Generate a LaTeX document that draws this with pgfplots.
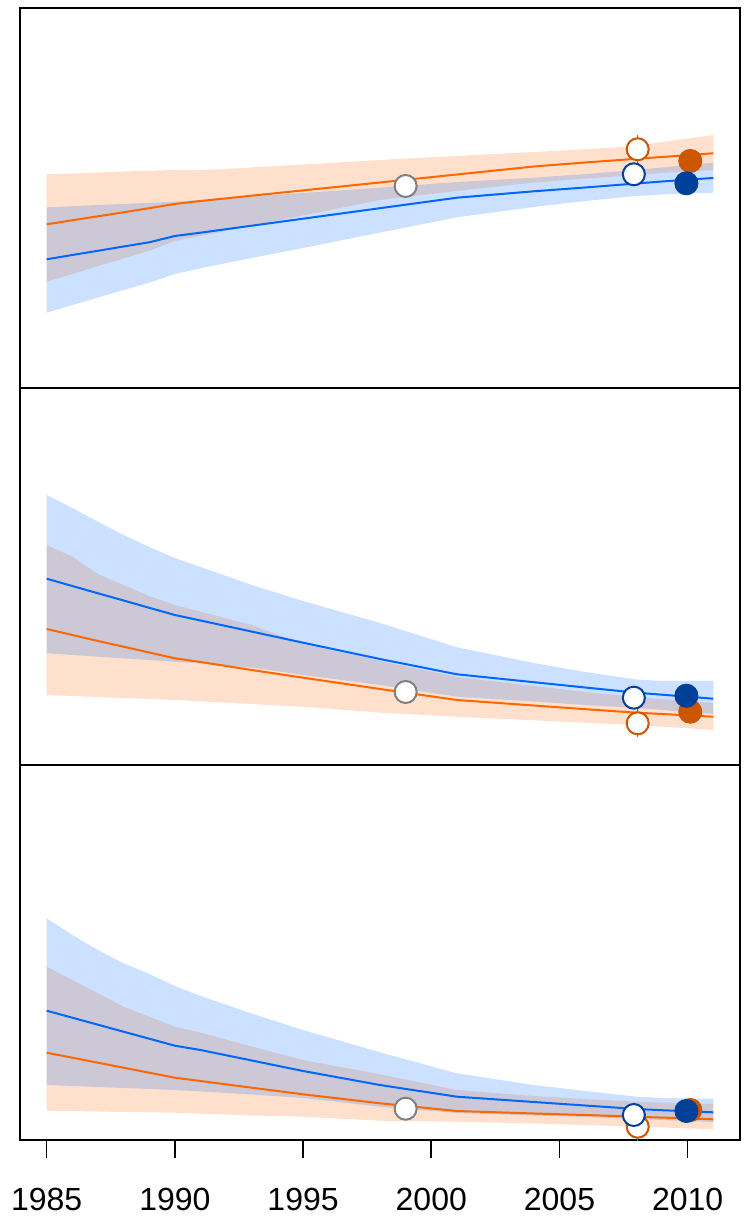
\documentclass[border=0pt]{standalone}
\usepackage{fontspec}
\setmainfont{Liberation Sans}
\usepackage{pgfplots}
\pgfplotsset{compat=1.18}
\usepackage{pgfplotstable}

\definecolor{oline}{RGB}{255,102,0}
\definecolor{bline}{RGB}{0,102,255}
\definecolor{odark}{RGB}{204,85,0}
\definecolor{bdark}{RGB}{0,64,153}
\definecolor{gcirc}{RGB}{128,128,128}

% values are vertical positions (larger = lower), read from the reference
% ---- panel 1 ----
\pgfplotstableread{
year om    bm
1985 224.3 259.3
1986 220.3 255.0
1987 216.3 250.8
1988 212.3 246.5
1989 208.2 242.3
1990 204.0 236.0
1991 201.0 232.7
1993 195.7 225.7
1995 190.4 218.7
1998 182.5 208.2
2001 174.5 197.7
2004 166.5 191.3
2006 162.5 187.5
2008 158.8 183.5
2009 157.0 181.5
2010 155.2 179.7
2011 153.3 178.0
}\lineA
\pgfplotstableread{
year y
1985 174.3
1986 173.5
1987 172.5
1988 171.5
1989 170.7
1990 170.0
1991 170.3
1993 167.5
1995 164.5
1998 160.0
2001 156.0
2004 152.0
2006 149.3
2008 146.0
2009 142.0
2010 138.5
2011 135.0
2011 170.0
2010 171.5
2009 173.0
2008 175.0
2006 178.5
2004 182.5
2001 191.0
1998 200.0
1995 215.5
1993 225.7
1991 236.0
1990 241.0
1989 250.7
1988 258.5
1987 266.0
1986 274.0
1985 281.7
}\obandA
\pgfplotstableread{
year y
1985 207.3
1986 206.2
1987 205.0
1988 204.0
1989 202.8
1990 201.7
1991 200.0
1993 196.5
1995 193.0
1998 187.7
2001 182.0
2004 177.7
2006 174.0
2008 170.0
2009 167.5
2010 165.0
2011 162.7
2011 192.7
2010 193.5
2009 194.5
2008 196.0
2006 201.0
2004 207.0
2001 217.3
1998 232.6
1995 248.0
1993 258.0
1991 268.3
1990 274.0
1989 282.7
1988 290.0
1987 297.5
1986 305.0
1985 312.7
}\bbandA

% ---- panel 2 ----
\pgfplotstableread{
year om    bm
1985 629.0 578.7
1986 635.0 586.0
1987 641.0 593.3
1988 646.7 600.5
1989 652.5 607.8
1990 658.3 615.0
1991 662.0 620.5
1993 670.0 631.6
1995 677.7 642.7
1998 689.0 659.0
2001 700.0 674.3
2004 705.5 682.2
2006 709.2 687.5
2008 712.7 692.7
2009 714.0 694.7
2010 715.4 696.7
2011 716.7 698.7
}\lineB
\pgfplotstableread{
year y
1985 545.0
1986 556.7
1987 574.0
1988 585.0
1989 596.0
1990 605.0
1991 611.7
1993 625.0
1995 644.0
1998 661.0
2001 677.0
2004 686.0
2006 692.0
2008 697.0
2009 699.0
2010 701.0
2011 703.0
2011 730.0
2010 728.3
2009 726.7
2008 725.0
2006 722.7
2004 720.3
2001 716.7
1998 712.7
1995 706.7
1993 704.0
1991 701.3
1990 700.0
1989 699.0
1988 698.0
1987 697.0
1986 696.0
1985 695.0
}\obandB
\pgfplotstableread{
year y
1985 495.0
1986 508.0
1987 521.7
1988 535.0
1989 547.0
1990 558.0
1991 567.0
1993 585.0
1995 601.0
1998 623.0
2001 647.3
2004 663.0
2006 672.0
2008 679.5
2009 681.0
2010 681.0
2011 681.0
2011 714.0
2010 712.0
2009 710.0
2008 708.0
2006 705.0
2004 701.5
2001 696.7
1998 685.0
1995 675.0
1993 667.5
1991 663.5
1990 661.7
1989 660.0
1988 658.3
1987 656.7
1986 655.0
1985 653.3
}\bbandB

% ---- panel 3 ----
\pgfplotstableread{
year om     bm
1985 1052.7 1010.7
1986 1057.7 1017.7
1987 1062.7 1024.7
1988 1067.7 1031.7
1989 1072.7 1038.7
1990 1077.7 1045.7
1991 1081.0 1050.0
1993 1087.7 1060.5
1995 1094.3 1071.0
1998 1103.3 1085.0
2001 1111.0 1096.7
2004 1113.5 1102.0
2006 1115.0 1105.5
2008 1116.7 1109.0
2009 1117.6 1110.2
2010 1118.4 1111.3
2011 1119.3 1112.3
}\lineC
\pgfplotstableread{
year y
1985 966.7
1986 980.0
1987 993.3
1988 1006.7
1989 1016.7
1990 1026.7
1991 1032.7
1993 1046.5
1995 1060.0
1998 1074.3
2001 1090.0
2004 1096.0
2006 1099.0
2008 1101.7
2009 1102.5
2010 1103.3
2011 1104.0
2011 1129.3
2010 1128.4
2009 1127.5
2008 1126.7
2006 1125.0
2004 1123.5
2001 1121.7
1998 1120.7
1995 1116.7
1993 1115.5
1991 1113.7
1990 1112.7
1989 1112.3
1988 1112.0
1987 1111.5
1986 1111.0
1985 1110.7
}\obandC
\pgfplotstableread{
year y
1985 918.3
1986 935.0
1987 950.0
1988 963.3
1989 974.0
1990 986.0
1991 996.0
1993 1013.5
1995 1030.0
1998 1052.3
2001 1073.3
2004 1085.0
2006 1091.0
2008 1096.7
2009 1098.0
2010 1098.5
2011 1098.7
2011 1122.0
2010 1121.0
2009 1120.0
2008 1119.0
2006 1117.0
2004 1115.5
2001 1113.0
1998 1106.7
1995 1098.0
1993 1094.5
1991 1091.5
1990 1090.0
1989 1089.0
1988 1088.0
1987 1087.0
1986 1086.0
1985 1085.0
}\bbandC

\pgfplotsset{
  panel/.style={
    scale only axis, width=360pt,
    xmin=1983.96, xmax=2012.04,
    y dir=reverse,
    axis line style={black, line width=1.2pt},
    clip=true,
  },
  oband/.style={fill=oline, fill opacity=0.2, draw=none},
  bband/.style={fill=bline, fill opacity=0.2, draw=none},
  gray open/.style={only marks, mark=*, mark size=5.5pt, mark options={draw=gcirc, fill=white, line width=1pt}},
  orange open/.style={only marks, mark=*, mark size=5.5pt, mark options={draw=odark, fill=white, line width=1pt},
    error bars/.cd, y dir=both, y explicit, error mark=none, error bar style={odark, line width=0.8pt}},
  blue open/.style={only marks, mark=*, mark size=5.5pt, mark options={draw=bdark, fill=white, line width=1pt}},
  orange full/.style={only marks, mark=*, mark size=5.8pt, mark options={draw=odark, fill=odark}},
  blue full/.style={only marks, mark=*, mark size=5.8pt, mark options={draw=bdark, fill=bdark}},
}

\begin{document}
\begin{tikzpicture}
\path[use as bounding box] (0pt,0pt) rectangle (375pt,612.5pt);

% ---------- panel 1 ----------
\begin{axis}[panel, height=190pt, at={(10pt,418.5pt)}, anchor=south west,
  ymin=8, ymax=388, xtick=\empty, ytick=\empty]
  \addplot[oband] table[x=year,y=y]{\obandA};
  \addplot[bband] table[x=year,y=y]{\bbandA};
  \addplot[bline, line width=1pt, no marks] table[x=year,y=bm]{\lineA};
  \addplot[oline, line width=1pt, no marks] table[x=year,y=om]{\lineA};
  \addplot[gray open] coordinates {(1999,186)};
  \addplot[orange open] coordinates {(2008.05,149.3) +- (0,14)};
  \addplot[blue open] coordinates {(2007.9,174.3)};
  \addplot[orange full] coordinates {(2010.1,161)};
  \addplot[blue full] coordinates {(2009.95,183.3)};
\end{axis}

% ---------- panel 2 ----------
\begin{axis}[panel, height=188.5pt, at={(10pt,230pt)}, anchor=south west,
  ymin=388, ymax=765, xtick=\empty, ytick=\empty]
  \addplot[oband] table[x=year,y=y]{\obandB};
  \addplot[bband] table[x=year,y=y]{\bbandB};
  \addplot[bline, line width=1pt, no marks] table[x=year,y=bm]{\lineB};
  \addplot[oline, line width=1pt, no marks] table[x=year,y=om]{\lineB};
  \addplot[gray open] coordinates {(1999,692)};
  \addplot[orange open] coordinates {(2008.05,723.3) +- (0,14)};
  \addplot[blue open] coordinates {(2007.9,697.7)};
  \addplot[orange full] coordinates {(2010.1,711.7)};
  \addplot[blue full] coordinates {(2009.95,695.7)};
\end{axis}

% ---------- panel 3 ----------
\begin{axis}[panel, height=187.5pt, at={(10pt,42.5pt)}, anchor=south west,
  ymin=765, ymax=1140, ytick=\empty,
  xtick={1985,1990,1995,2000,2005,2010},
  xticklabels={1985,1990,1995,2000,2005,2010},
  xtick pos=bottom, tick align=outside, major tick length=9pt,
  tick style={black, line width=0.8pt},
  xticklabel style={font=\fontsize{16}{19}\selectfont},
  xticklabel shift=11.5pt]
  \addplot[oband] table[x=year,y=y]{\obandC};
  \addplot[bband] table[x=year,y=y]{\bbandC};
  \addplot[bline, line width=1pt, no marks] table[x=year,y=bm]{\lineC};
  \addplot[oline, line width=1pt, no marks] table[x=year,y=om]{\lineC};
  \addplot[gray open] coordinates {(1999,1108.7)};
  \addplot[orange open] coordinates {(2008.05,1126.7) +- (0,14)};
  \addplot[blue open] coordinates {(2007.9,1115)};
  \addplot[orange full] coordinates {(2010.1,1110)};
  \addplot[blue full] coordinates {(2009.95,1111)};
\end{axis}
\end{tikzpicture}
\end{document}
